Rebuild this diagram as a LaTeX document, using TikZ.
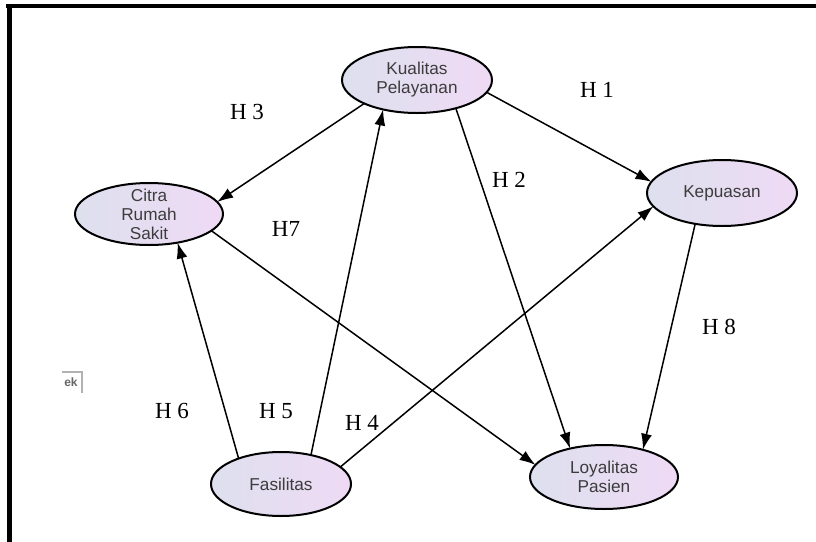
\documentclass[tikz,border=0pt]{standalone}
\usepackage{fontspec}
\setmainfont{Liberation Serif}
\setsansfont{Liberation Sans}
\usetikzlibrary{arrows.meta, shapes.geometric}
\definecolor{varleft}{HTML}{DDE0EE}
\definecolor{varright}{HTML}{EFDAF5}
\definecolor{vartext}{HTML}{3C3C3C}
\tikzset{variabel/.style={ellipse,draw,line width=1pt,left color=varleft,right color=varright,minimum width=75pt,minimum height=33pt,inner sep=-5pt,outer sep=0pt,align=center,text=vartext,font=\sffamily\fontsize{8.6}{9.5}\selectfont}}
\tikzset{hlabel/.style={font=\fontsize{11.5}{13}\selectfont,inner sep=0pt}}
\begin{document}
\begin{tikzpicture}[x=0.5pt,y=-0.5pt,>={Latex[length=8pt,width=5.5pt]},line width=0.75pt]
    \useasboundingbox (0,0) rectangle (816,542);
    % frame
    \draw[line width=2pt] (6,6) -- (816,6);
    \draw[line width=2.5pt] (9,4) -- (9,542);
    % stray fragment
    \draw[gray!60,line width=0.7pt] (62,372) -- (82,372) -- (82,393);
    \node[font=\sffamily\bfseries\fontsize{6}{7}\selectfont,text=gray!80!black,inner sep=0pt](frag) at (71,382) {ek};

    \node[variabel](Kual) at (417,80) {Kualitas\\Pelayanan};
    \node[variabel,minimum width=74pt,minimum height=31pt](Citra) at (149,214) {Citra\\Rumah\\Sakit};
    \node[variabel](Kep) at (722,193) {Kepuasan};
    \node[variabel,minimum width=70pt,minimum height=32pt](Fas) at (281,484) {Fasilitas};
    \node[variabel,minimum width=74pt,minimum height=32pt](Loy) at (604,477) {Loyalitas\\Pasien};

    \path[->] (Kual.204) edge (Citra.10);
    \path[->] (Kual.350) edge (Kep.171);
    \path[->] (Kual.324) edge (Loy.140);
    \path[->] (Citra.345) edge (Loy.170);
    \path[->] (Kep.229) edge (Loy.35);
    \path[->] (Fas.149) edge (Citra.315);
    \path[->] (Fas.44) edge (Kual.221);
    \path[->] (Fas.16) edge (Kep.191);

    \node[hlabel](H1) at (597,90) {H 1};
    \node[hlabel](H2) at (509,180) {H 2};
    \node[hlabel](H3) at (247,112) {H 3};
    \node[hlabel](H4) at (362,423) {H 4};
    \node[hlabel](H5) at (276,411) {H 5};
    \node[hlabel](H6) at (172,411) {H 6};
    \node[hlabel](H7) at (286,229) {H7};
    \node[hlabel](H8) at (719,327) {H 8};
\end{tikzpicture}
\end{document}
